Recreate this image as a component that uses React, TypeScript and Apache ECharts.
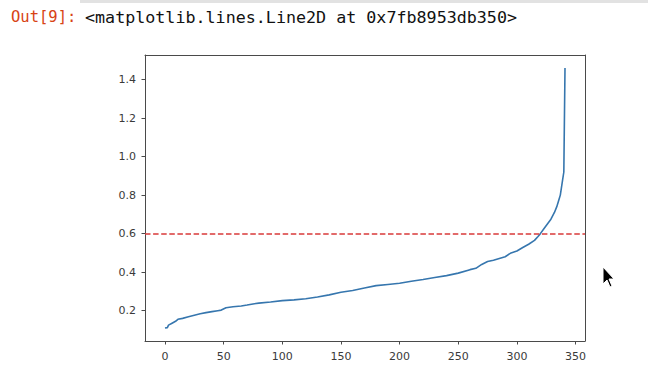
import React, { useEffect, useRef } from "react";
import * as echarts from "echarts";

// Sorted distance values (index, value)
const pointIndex = [
  0, 2, 3, 6, 9, 11, 15, 20, 25, 30, 35, 40, 45, 48, 52, 58, 65, 70, 75, 80,
  90, 100, 110, 120, 130, 140, 150, 160, 170, 180, 190, 200, 210, 220, 230,
  240, 250, 260, 265, 270, 275, 280, 290, 295, 300, 305, 310, 315, 318, 320,
  323, 326, 329, 332, 334, 336, 337, 338, 339, 340, 341,
];
const pointValue = [
  0.11, 0.112, 0.125, 0.135, 0.145, 0.155, 0.16, 0.168, 0.176, 0.184, 0.19,
  0.195, 0.2, 0.203, 0.215, 0.22, 0.224, 0.229, 0.235, 0.239, 0.245, 0.252,
  0.256, 0.262, 0.271, 0.282, 0.296, 0.305, 0.318, 0.33, 0.336, 0.342, 0.353,
  0.362, 0.372, 0.382, 0.395, 0.413, 0.42, 0.44, 0.455, 0.462, 0.48, 0.5,
  0.51, 0.528, 0.545, 0.565, 0.585, 0.6, 0.625, 0.65, 0.675, 0.71, 0.74,
  0.78, 0.8, 0.84, 0.88, 0.92, 1.46,
];
const thresholdValue = 0.6;
const xTicks = [0, 50, 100, 150, 200, 250, 300, 350];
const yTicks = [0.2, 0.4, 0.6, 0.8, 1.0, 1.2, 1.4];
const promptText = "Out[9]:";
const outputText = "<matplotlib.lines.Line2D at 0x7fb8953db350>";

const X_MIN = -17.05;
const X_MAX = 358.05;
const Y_MIN = 0.0425;
const Y_MAX = 1.5275;

export default function App() {
  const ref = useRef<HTMLDivElement>(null);
  useEffect(() => {
    if (!ref.current) return;
    const chart = echarts.init(ref.current, undefined, { renderer: "svg" });
    const spine = { show: true, lineStyle: { color: "#4a4a4a", width: 1 } };
    const tickFont = {
      color: "#3a3a3a",
      fontSize: 11,
      fontFamily: "DejaVu Sans",
    };
    chart.setOption({
      animation: false,
      backgroundColor: "#ffffff",
      grid: { left: 145, top: 55, right: 63, bottom: 33, containLabel: false },
      xAxis: [
        {
          type: "value",
          min: X_MIN,
          max: X_MAX,
          axisLine: { ...spine, onZero: false },
          axisTick: {
            show: true,
            length: 3.5,
            customValues: xTicks,
            lineStyle: { color: "#4a4a4a" },
          },
          axisLabel: {
            ...tickFont,
            margin: 10,
            customValues: xTicks,
            formatter: (v: number) => String(v),
          },
          splitLine: { show: false },
        },
        {
          type: "value",
          position: "top",
          min: X_MIN,
          max: X_MAX,
          axisLine: { ...spine, onZero: false },
          axisTick: { show: false },
          axisLabel: { show: false },
          splitLine: { show: false },
        },
      ],
      yAxis: [
        {
          type: "value",
          min: Y_MIN,
          max: Y_MAX,
          axisLine: { ...spine, onZero: false },
          axisTick: {
            show: true,
            length: 3.5,
            customValues: yTicks,
            lineStyle: { color: "#4a4a4a" },
          },
          axisLabel: {
            ...tickFont,
            margin: 9,
            customValues: yTicks,
            formatter: (v: number) => v.toFixed(1),
          },
          splitLine: { show: false },
        },
        {
          type: "value",
          position: "right",
          min: Y_MIN,
          max: Y_MAX,
          axisLine: { ...spine, onZero: false },
          axisTick: { show: false },
          axisLabel: { show: false },
          splitLine: { show: false },
        },
      ],
      series: [
        {
          type: "line",
          xAxisIndex: 0,
          yAxisIndex: 0,
          showSymbol: false,
          symbol: "none",
          data: pointIndex.map((x, i) => [x, pointValue[i]]),
          lineStyle: { color: "#3676ae", width: 1.6 },
          markLine: {
            silent: true,
            symbol: "none",
            label: { show: false },
            lineStyle: {
              color: "#d93a3a",
              width: 1.6,
              type: [5.5, 2.6],
            },
            data: [{ yAxis: thresholdValue }],
          },
        },
      ],
      graphic: [
        {
          type: "rect",
          shape: { x: 80, y: 0, width: 568, height: 3 },
          style: { fill: "#e2e2e2" },
        },
        {
          type: "text",
          x: 11,
          y: 17,
          style: {
            text: promptText,
            fill: "#d84315",
            font: '15.5px "DejaVu Sans Mono"',
            verticalAlign: "middle",
          },
        },
        {
          type: "text",
          x: 85,
          y: 17,
          style: {
            text: outputText,
            fill: "#111111",
            font: '16.7px "DejaVu Sans Mono"',
            verticalAlign: "middle",
          },
        },
        {
          type: "polygon",
          shape: {
            points: [
              [603, 267],
              [603, 284],
              [607, 280],
              [610, 287],
              [612, 286],
              [609, 279],
              [614, 279],
            ],
          },
          style: { fill: "#000000", stroke: "#ffffff", lineWidth: 1 },
        },
      ],
    });
    return () => chart.dispose();
  }, []);
  return (
    <div
      ref={ref}
      style={{ position: "absolute", left: 0, top: 0, width: 648, height: 374 }}
    />
  );
}
